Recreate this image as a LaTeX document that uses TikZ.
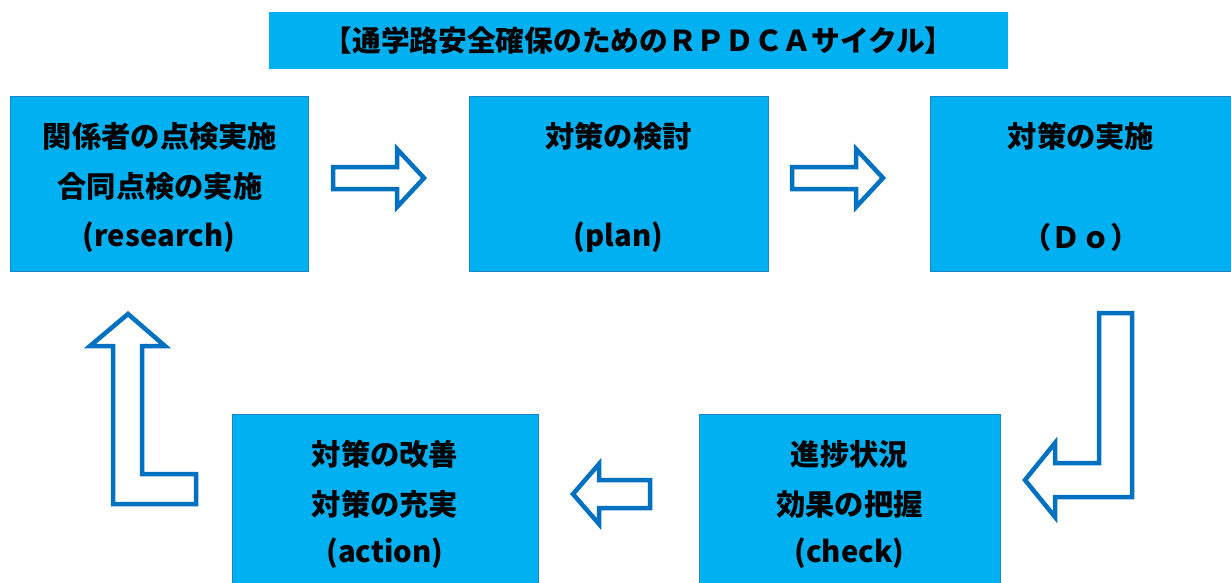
\documentclass[tikz,border=0pt]{standalone}
\usepackage{fontspec}
\usepackage{graphicx}
\newfontfamily\jp{Noto Sans CJK JP}
\definecolor{boxfill}{HTML}{00B0F0}
\definecolor{boxline}{HTML}{1A86C8}
\definecolor{arrowline}{HTML}{0070C0}
\tikzset{
  stagebox/.style={draw=boxline, line width=1pt, fill=boxfill},
  boxtext/.style={font=\jp\bfseries\fontsize{29.3}{32}\selectfont, text=black, inner sep=0pt, anchor=center},
  blockarrow/.style={draw=arrowline, line width=4.5pt, fill=white, line join=miter}
}
\begin{document}
\begin{tikzpicture}[x=1pt,y=-1pt]
\useasboundingbox (0,0) rectangle (1231,583);
% title
\node[fill=boxfill, minimum width=739pt, minimum height=57pt, inner sep=0pt, anchor=north west] (title) at (269,12) {};
\node[font=\jp\bfseries\fontsize{28.7}{30}\selectfont, inner sep=0pt] (titletext) at (title.center) {【通学路安全確保のためのＲＰＤＣＡサイクル】};
% boxes
\path[stagebox] (10,97) rectangle (308,271);
\node[inner sep=0pt, minimum width=298pt, minimum height=174pt] (research) at (159,184) {};
\path[stagebox] (469,97) rectangle (768,271);
\node[inner sep=0pt, minimum width=299pt, minimum height=174pt] (plan) at (618.5,184) {};
\path[stagebox] (930,97) rectangle (1236,271);
\node[inner sep=0pt, minimum width=306pt, minimum height=174pt] (do) at (1083,184) {};
\path[stagebox] (232,414) rectangle (538,590);
\node[inner sep=0pt, minimum width=306pt, minimum height=176pt] (action) at (385,502) {};
\path[stagebox] (699,414) rectangle (1000,590);
\node[inner sep=0pt, minimum width=301pt, minimum height=176pt] (check) at (849.5,502) {};
% texts
\node[boxtext] (r1) at (160,136) {関係者の点検実施};
\node[boxtext] (r2) at (160,186) {合同点検の実施};
\node[boxtext] (r3) at (159,237) {(research)};
\node[boxtext] (p1) at (618.5,136) {対策の検討};
\node[boxtext] (p2) at (618.5,237) {(plan)};
\node[boxtext] (d1) at (1081,136) {対策の実施};
\node[boxtext] (d2) at (1081,237) {（Ｄｏ）};
\node[boxtext] (a1) at (385,454) {対策の改善};
\node[boxtext] (a2) at (385,504) {対策の充実};
\node[boxtext] (a3) at (385,553) {(action)};
\node[boxtext] (c1) at (849.5,454) {進捗状況};
\node[boxtext] (c2) at (849.5,504) {効果の把握};
\node[boxtext] (c3) at (849.5,553) {(check)};
% block arrows
\path[blockarrow] (333,167) -- (397,167) -- (397,149) -- (424,178) -- (397,207) -- (397,189) -- (333,189) -- cycle;
\path[blockarrow] (792,167) -- (856,167) -- (856,149) -- (883,178) -- (856,207) -- (856,189) -- (792,189) -- cycle;
\path[blockarrow] (1099,313) -- (1132,313) -- (1132,497) -- (1055,497) -- (1055,517) -- (1025,480) -- (1055,443) -- (1055,463) -- (1099,463) -- cycle;
\path[blockarrow] (650,480) -- (650,508) -- (599,508) -- (599,524) -- (573,494) -- (599,464) -- (599,480) -- cycle;
\path[blockarrow] (113,504) -- (196,504) -- (196,474) -- (142,474) -- (142,346) -- (165,346) -- (128,314) -- (90,346) -- (113,346) -- cycle;
\end{tikzpicture}
\end{document}
